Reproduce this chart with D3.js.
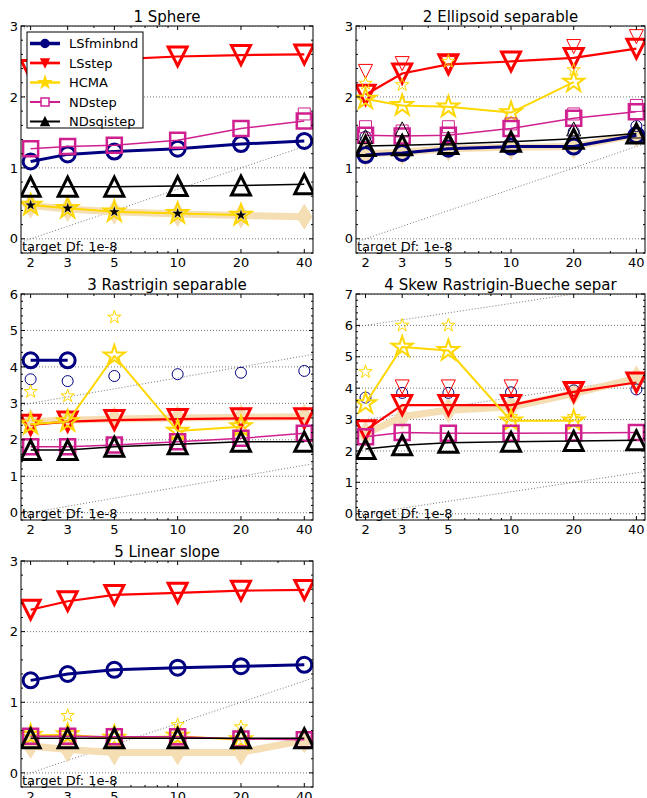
<!DOCTYPE html>
<html><head><meta charset="utf-8">
<script src="https://cdn.jsdelivr.net/npm/d3@7"></script>
<style>body{margin:0;background:#fff} svg{display:block} text{font-family:"DejaVu Sans",sans-serif}</style>
</head><body><svg id="c" width="647" height="798"></svg>
<script>
// ---------------- data ----------------
const dims = [2, 3, 5, 10, 20, 40];
const dimTicks = ["2", "3", "5", "10", "20", "40"];
const dimMinor = [4, 6, 7, 8, 9, 30];
const algorithms = ["LSfminbnd", "LSstep", "HCMA", "NDstep", "NDsqistep"];
const titles = ["1 Sphere", "2 Ellipsoid separable", "3 Rastrigin separable", "4 Skew Rastrigin-Bueche separ", "5 Linear slope"];
const yMax = [3, 3, 6, 7, 3];
const targetLabel = "target Df: 1e-8";
const diagOffsets = [0, 3, 6];

// main values (log10 ERT/dim), rows = algorithms, null = none
const f1Main = [
  [1.09, 1.19, 1.23, 1.27, 1.335, 1.38],
  [2.38, 2.47, 2.53, 2.57, 2.59, 2.60],
  [0.475, 0.43, 0.38, 0.357, 0.334, null],
  [1.27, 1.30, 1.32, 1.39, 1.556, 1.66],
  [0.735, 0.735, 0.735, 0.743, 0.75, 0.77]
];
const f1Small = [
  [null, null, null, null, null, null],
  [null, null, null, null, null, null],
  [null, null, null, null, null, null],
  [null, null, null, null, null, 1.76],
  [null, null, null, null, null, null]
];
const f1Ref = [0.47, 0.42, 0.38, 0.35, 0.33, 0.31];
const f1Signif = [1, 1, 1, 1, 1, 0];

const f2Main = [
  [1.18, 1.21, 1.27, 1.30, 1.30, 1.46],
  [2.03, 2.33, 2.46, 2.50, 2.55, 2.68],
  [1.97, 1.88, 1.86, 1.78, 2.21, null],
  [1.46, 1.45, 1.46, 1.556, 1.70, 1.79],
  [1.31, 1.32, 1.335, 1.37, 1.41, 1.485]
];
const f2Small = [
  [1.44, null, null, null, 1.51, 1.59],
  [2.36, 2.47, 2.47, null, 2.71, 2.85],
  [2.19, 2.17, 2.50, null, 2.38, null],
  [1.58, 1.52, 1.58, 1.62, 1.76, 1.88],
  [1.44, 1.55, 1.42, null, 1.55, 1.52]
];
const f2Ref = [1.20, 1.22, 1.27, 1.29, 1.30, 1.47];

const f3Main = [
  [4.18, 4.18, null, null, null, null],
  [2.41, 2.50, 2.54, 2.57, 2.59, 2.59],
  [2.43, 2.50, 4.30, 2.24, 2.36, null],
  [1.81, 1.81, 1.86, 1.95, 2.04, 2.18],
  [1.72, 1.72, 1.81, 1.88, 1.95, 1.95]
];
const f3Small = [
  [3.66, 3.61, 3.75, 3.80, 3.84, 3.89],
  [null, null, null, null, null, null],
  [3.32, 3.20, 5.36, null, 2.45, null],
  [null, null, null, null, null, null],
  [null, null, null, null, null, null]
];
const f3Ref = [2.50, 2.54, 2.57, 2.60, 2.62, 2.63];

const f4Main = [
  [null, null, null, null, null, null],
  [2.66, 3.46, 3.46, 3.46, 3.88, 4.18],
  [3.51, 5.31, 5.20, 2.96, 2.96, null],
  [2.45, 2.59, 2.56, 2.56, 2.57, 2.59],
  [2.06, 2.18, 2.26, 2.29, 2.32, 2.34]
];
const f4Small = [
  [3.70, 3.85, 3.85, 3.87, 3.93, 3.96],
  [null, 4.04, 4.04, 4.04, 3.95, null],
  [4.52, 6.00, 6.00, 3.09, 3.09, null],
  [null, null, null, null, null, null],
  [null, null, null, null, null, null]
];
const f4Ref = [2.55, 3.09, 3.30, 3.40, 3.83, 4.31];

const f5Main = [
  [1.31, 1.40, 1.46, 1.49, 1.51, 1.53],
  [2.31, 2.43, 2.52, 2.55, 2.58, 2.59],
  [0.53, 0.54, 0.49, 0.52, 0.47, null],
  [0.52, 0.52, 0.51, 0.51, 0.48, 0.47],
  [0.49, 0.49, 0.49, 0.49, 0.49, 0.49]
];
const f5Small = [
  [null, null, null, null, null, null],
  [null, null, null, null, null, null],
  [0.58, 0.81, 0.60, 0.68, 0.65, null],
  [null, null, null, null, null, null],
  [null, null, null, null, null, null]
];
const f5Ref = [0.38, 0.33, 0.29, 0.29, 0.29, 0.46];

const mainData = [f1Main, f2Main, f3Main, f4Main, f5Main];
const smallData = [f1Small, f2Small, f3Small, f4Small, f5Small];
const refData = [f1Ref, f2Ref, f3Ref, f4Ref, f5Ref];
const signifData = [f1Signif, null, null, null, null];

// ---------------- styles / layout ----------------
const colors = ["#000080", "#ff0000", "#ffd700", "#d02090", "#000000"];
const markers = ["circle", "tridown", "star", "square", "triup"];
const lineW = [3, 2.2, 2, 1.5, 1.5];
const bigSize = {circle: 7.5, tridown: 9.5, star: 11, square: 7.5, triup: 9.5};
const bigStroke = {circle: 3, tridown: 3, star: 2, square: 2.5, triup: 3};
const smallSize = {circle: 5.5, tridown: 7, star: 7, square: 6, triup: 7};
const refColor = "#f5deb3";

const panels = [
  {l: 21, r: 313, t: 26, b: 253},
  {l: 356, r: 645, t: 26, b: 253},
  {l: 21, r: 313, t: 294, b: 520},
  {l: 356, r: 645, t: 294, b: 520},
  {l: 21, r: 313, t: 561, b: 787}
];

function markerPath(type, s) {
  const p = d3.path();
  if (type === "circle") { p.moveTo(s, 0); p.arc(0, 0, s, 0, 2 * Math.PI); p.closePath(); }
  else if (type === "tridown") { p.moveTo(-s, -s); p.lineTo(s, -s); p.lineTo(0, s); p.closePath(); }
  else if (type === "triup") { p.moveTo(0, -s); p.lineTo(s, s); p.lineTo(-s, s); p.closePath(); }
  else if (type === "square") { p.rect(-s, -s, 2 * s, 2 * s); }
  else if (type === "star") {
    const ri = s * 0.381966;
    for (let i = 0; i < 10; i++) {
      const r = i % 2 ? ri : s;
      const a = -Math.PI / 2 + i * Math.PI / 5;
      const x = r * Math.cos(a), y = r * Math.sin(a);
      if (i === 0) p.moveTo(x, y); else p.lineTo(x, y);
    }
    p.closePath();
  } else if (type === "diamond") {
    p.moveTo(0, -s); p.lineTo(s * 0.62, 0); p.lineTo(0, s); p.lineTo(-s * 0.62, 0); p.closePath();
  }
  return p.toString();
}

const svg = d3.select("#c");
const defs = svg.append("defs");

panels.forEach((P, pi) => {
  const x = d3.scaleLog().domain([1.8, 44]).range([P.l, P.r]);
  const y = d3.scaleLinear().domain([-0.2, yMax[pi]]).range([P.b, P.t]);
  const clipId = "clip" + pi;
  defs.append("clipPath").attr("id", clipId).append("rect")
    .attr("x", P.l).attr("y", P.t).attr("width", P.r - P.l).attr("height", P.b - P.t);
  const g = svg.append("g");
  const plot = g.append("g").attr("clip-path", `url(#${clipId})`);

  // horizontal grid
  const yTicks = d3.range(0, yMax[pi] + 0.001, 1);
  plot.selectAll(".grid").data(yTicks).enter().append("line")
    .attr("x1", P.l).attr("x2", P.r).attr("y1", d => y(d)).attr("y2", d => y(d))
    .attr("stroke", "#555").attr("stroke-width", 0.8).attr("stroke-dasharray", "1,2");

  // slanted quadratic grid lines
  diagOffsets.forEach(k => {
    const xs = [1.8, 44];
    plot.append("line")
      .attr("x1", x(xs[0])).attr("y1", y(k + Math.log10(xs[0] / 2)))
      .attr("x2", x(xs[1])).attr("y2", y(k + Math.log10(xs[1] / 2)))
      .attr("stroke", "#555").attr("stroke-width", 0.8).attr("stroke-dasharray", "1,2");
  });

  // reference band
  const refPts = dims.map((d, i) => [d, refData[pi][i]]).filter(p => p[1] != null);
  const line = d3.line().x(d => x(d[0])).y(d => y(d[1]));
  plot.append("path").attr("d", line(refPts)).attr("fill", "none")
    .attr("stroke", refColor).attr("stroke-width", 7).attr("stroke-linejoin", "round");
  plot.selectAll(".refm").data(refPts).enter().append("path")
    .attr("transform", d => `translate(${x(d[0])},${y(d[1])})`)
    .attr("d", markerPath("diamond", 13)).attr("fill", refColor);

  // series
  algorithms.forEach((alg, ai) => {
    const vals = mainData[pi][ai];
    const pts = dims.map((d, i) => [d, vals[i]]).filter(p => p[1] != null);
    const col = colors[ai], mk = markers[ai];
    if (pts.length > 1)
      plot.append("path").attr("d", line(pts)).attr("fill", "none")
        .attr("stroke", col).attr("stroke-width", lineW[ai]).attr("stroke-linejoin", "round");
    plot.selectAll(".m" + ai).data(pts).enter().append("path")
      .attr("transform", d => `translate(${x(d[0])},${y(d[1])})`)
      .attr("d", markerPath(mk, bigSize[mk])).attr("fill", "none")
      .attr("stroke", col).attr("stroke-width", bigStroke[mk]).attr("stroke-linejoin", "miter");
    const sv = smallData[pi][ai];
    const spts = dims.map((d, i) => [d, sv[i]]).filter(p => p[1] != null);
    plot.selectAll(".s" + ai).data(spts).enter().append("path")
      .attr("transform", d => `translate(${x(d[0])},${y(d[1])})`)
      .attr("d", markerPath(mk, smallSize[mk])).attr("fill", "none")
      .attr("stroke", col).attr("stroke-width", 1);
    if (alg === "HCMA" && signifData[pi]) {
      const sg = pts.filter((p, i) => signifData[pi][dims.indexOf(p[0])]);
      plot.selectAll(".sg").data(sg).enter().append("path")
        .attr("transform", d => `translate(${x(d[0])},${y(d[1])})`)
        .attr("d", markerPath("star", 5.5)).attr("fill", "#000");
    }
  });

  // target text
  g.append("text").attr("x", P.l + 1).attr("y", P.b - 2).attr("font-size", 13).text(targetLabel);

  // frame
  g.append("rect").attr("x", P.l).attr("y", P.t).attr("width", P.r - P.l).attr("height", P.b - P.t)
    .attr("fill", "none").attr("stroke", "#000").attr("stroke-width", 1);

  // y ticks
  const yMinor = d3.range(-0.2, yMax[pi] + 0.001, 0.2).map(v => +v.toFixed(2));
  yMinor.forEach(v => {
    const major = Math.abs(v - Math.round(v)) < 1e-6;
    const len = major ? 4 : 2;
    g.append("line").attr("x1", P.l).attr("x2", P.l + len).attr("y1", y(v)).attr("y2", y(v)).attr("stroke", "#000");
    g.append("line").attr("x1", P.r).attr("x2", P.r - len).attr("y1", y(v)).attr("y2", y(v)).attr("stroke", "#000");
  });
  g.selectAll(".yl").data(yTicks).enter().append("text")
    .attr("x", P.l - 3).attr("y", d => y(d)).attr("dy", "0.36em").attr("text-anchor", "end")
    .attr("font-size", 13).text(d => d3.format("d")(d));

  // x ticks
  dims.forEach(d => {
    g.append("line").attr("x1", x(d)).attr("x2", x(d)).attr("y1", P.b).attr("y2", P.b - 4).attr("stroke", "#000");
    g.append("line").attr("x1", x(d)).attr("x2", x(d)).attr("y1", P.t).attr("y2", P.t + 4).attr("stroke", "#000");
  });
  dimMinor.forEach(d => {
    g.append("line").attr("x1", x(d)).attr("x2", x(d)).attr("y1", P.b).attr("y2", P.b - 2).attr("stroke", "#000");
    g.append("line").attr("x1", x(d)).attr("x2", x(d)).attr("y1", P.t).attr("y2", P.t + 2).attr("stroke", "#000");
  });
  g.selectAll(".xl").data(dims).enter().append("text")
    .attr("x", d => x(d)).attr("y", P.b + 14).attr("text-anchor", "middle")
    .attr("font-size", 13).text((d, i) => dimTicks[i]);

  // title
  g.append("text").attr("x", (P.l + P.r) / 2).attr("y", P.t - 4).attr("text-anchor", "middle")
    .attr("font-size", 15).text(titles[pi]);

  // legend on first panel
  if (pi === 0) {
    const lg = g.append("g");
    lg.append("rect").attr("x", 27).attr("y", 32).attr("width", 116).attr("height", 96)
      .attr("fill", "#fff").attr("stroke", "#000").attr("stroke-width", 1);
    algorithms.forEach((alg, ai) => {
      const yy = 43.5 + ai * 19.5;
      const mk = markers[ai];
      lg.append("line").attr("x1", 30).attr("x2", 60).attr("y1", yy).attr("y2", yy)
        .attr("stroke", colors[ai]).attr("stroke-width", lineW[ai] + 0.5);
      const filled = mk !== "square";
      lg.append("path").attr("transform", `translate(45,${yy})`)
        .attr("d", markerPath(mk, mk === "star" ? 6 : 4))
        .attr("fill", filled ? colors[ai] : "#fff").attr("stroke", colors[ai]).attr("stroke-width", 1.5);
      lg.append("text").attr("x", 69).attr("y", yy).attr("dy", "0.36em").attr("font-size", 13).text(alg);
    });
  }
});
</script></body></html>
